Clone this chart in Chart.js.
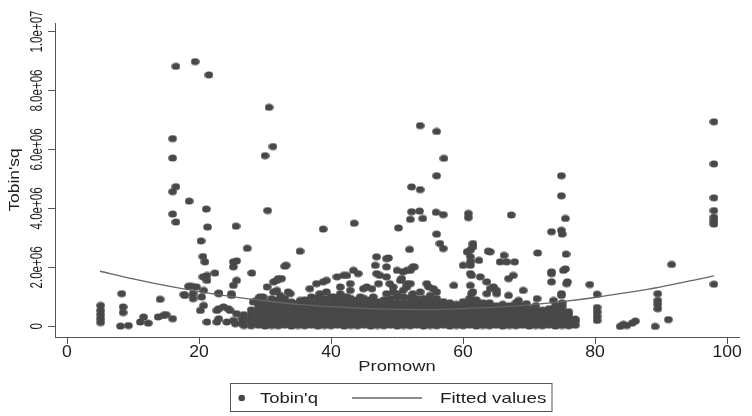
<!DOCTYPE html>
<html lang="en">
<head>
    <meta charset="UTF-8">
    <title>Tobin's q vs Promown</title>
    <script src="https://cdn.jsdelivr.net/npm/chart.js"></script>
    <style>
        body {
            margin: 0;
            background-color: #fff;
        }
        #scatterChart {
            display: block;
        }
    </style>
</head>
<body>
    <canvas id="scatterChart" width="752" height="416"></canvas>

    <script>
        // values of Tobin'q are in millions (1 = 1.0e+06)
        const xTicks = [0, 20, 40, 60, 80, 100];
        const yTicks = [0, 2, 4, 6, 8, 10];
        const yTickLabels = ['0', '2.0e+06', '4.0e+06', '6.0e+06', '8.0e+06', '1.0e+07'];

        // isolated high points
        const farPoints = [
            [16.5, 8.82], [19.4, 8.98], [21.5, 8.53], [30.6, 7.43], [16.0, 6.37], [31.2, 6.10],
            [16.0, 5.71], [30.0, 5.79], [16.5, 4.74], [16.0, 4.57], [18.5, 4.25], [21.1, 3.98],
            [30.4, 3.93], [16.0, 3.81], [16.5, 3.54], [21.3, 3.37], [25.6, 3.40], [20.3, 2.90],
            [27.3, 2.65], [35.3, 2.55], [43.5, 3.50], [38.8, 3.30],
            [53.5, 6.81], [56.0, 6.61], [57.1, 5.70], [56.0, 5.11], [52.2, 4.73], [53.5, 4.64],
            [52.2, 3.89], [53.4, 3.91], [52.0, 3.63], [53.9, 3.66], [55.9, 3.87], [57.0, 3.79],
            [60.8, 3.83], [60.8, 3.69], [67.3, 3.78], [50.2, 3.34], [56.0, 3.13], [56.5, 2.81],
            [57.0, 2.64], [51.9, 2.61], [61.5, 2.81], [61.1, 2.59], [61.5, 2.70], [60.6, 2.53],
            [63.8, 2.55], [64.1, 2.53], [66.2, 2.41], [71.3, 2.49],
            [73.4, 3.21], [74.9, 3.26], [75.0, 3.13], [74.9, 5.11], [74.9, 4.43], [75.5, 3.66], [75.6, 2.45],
            [98.0, 6.94], [98.0, 5.51], [98.0, 4.36], [98.0, 3.93], [98.0, 3.70], [98.0, 3.58], [98.0, 3.47]
        ];

        // points between about 1.0e+06 and 2.4e+06
        const midPoints = [
            [20.6, 2.37], [20.9, 2.19], [25.7, 2.22], [25.2, 2.02], [33.0, 2.04], [25.2, 2.19], [33.2, 2.07],
            [8.3, 1.11], [18.4, 1.36], [18.9, 1.36], [19.6, 1.34], [19.1, 1.11], [17.7, 1.08], [20.7, 1.22],
            [20.4, 1.00], [21.2, 1.73], [22.4, 1.81], [23.0, 1.11], [25.2, 1.39], [24.9, 1.11], [25.7, 1.56],
            [28.0, 1.81], [20.6, 1.68], [21.2, 1.56], [17.9, 1.05], [23.0, 1.13], [24.9, 1.05],
            [30.3, 1.34], [31.3, 1.51], [32.0, 1.62], [32.3, 1.05], [33.8, 1.11], [32.5, 1.62], [31.8, 1.56],
            [31.8, 1.22], [33.5, 1.17], [31.3, 1.17], [36.8, 1.28], [37.8, 1.45], [38.8, 1.51], [39.3, 1.56],
            [40.9, 1.68], [41.9, 1.73], [42.4, 1.73], [43.4, 1.90], [44.1, 1.79], [38.3, 1.11], [41.4, 1.34],
            [42.9, 1.45], [39.3, 1.17], [41.4, 1.11], [42.9, 1.22], [44.9, 1.28], [46.2, 1.28], [45.4, 1.34],
            [40.4, 1.00], [42.4, 1.00], [44.4, 1.00], [46.4, 1.00], [29.7, 1.00],
            [46.9, 2.36], [48.4, 2.30], [48.7, 2.32], [46.7, 2.07], [48.4, 2.02], [47.4, 1.73], [48.4, 1.68],
            [50.0, 1.90], [50.7, 1.62], [51.5, 1.90], [49.4, 1.34], [50.0, 1.11], [51.5, 1.34], [48.4, 1.11],
            [46.9, 1.79], [47.2, 1.45], [48.9, 1.45], [49.4, 1.17], [50.9, 1.22], [52.4, 2.02], [50.9, 1.85],
            [52.6, 2.02], [51.5, 1.45], [54.5, 1.45], [55.5, 1.28], [53.5, 1.17], [52.0, 1.45], [52.4, 1.11],
            [54.8, 1.34], [56.0, 1.17], [55.0, 1.05], [52.0, 1.90], [50.5, 1.56], [58.6, 1.39],
            [60.0, 2.07], [61.1, 2.19], [62.4, 2.24], [61.1, 2.36], [61.1, 2.07], [61.3, 1.73], [62.6, 1.68],
            [63.6, 1.51], [64.6, 1.34], [64.1, 1.28], [61.1, 1.39], [61.3, 1.11], [61.5, 1.17], [63.6, 1.11],
            [65.1, 1.11], [65.1, 1.22], [61.1, 1.79], [65.6, 2.19], [67.8, 2.19], [66.6, 2.19], [66.9, 1.62],
            [67.6, 1.73], [66.9, 1.05], [69.1, 1.22], [71.2, 0.94],
            [73.4, 1.85], [73.4, 1.51], [75.2, 1.90], [75.5, 1.95], [75.7, 1.45], [74.9, 1.11], [75.8, 1.51],
            [74.9, 1.05], [73.4, 1.79],
            [79.2, 1.42], [80.3, 1.09], [89.5, 1.11], [91.6, 2.10], [98.0, 1.43]
        ];

        // low points outside the dense band
        const lowPoints = [
            [5.1, 0.71], [5.1, 0.54], [5.1, 0.40], [5.1, 0.26], [5.1, 0.13], [8.5, 0.66], [8.5, 0.47],
            [8.1, 0.01], [9.3, 0.03], [11.1, 0.15], [11.6, 0.32], [12.3, 0.11], [13.8, 0.32], [15.0, 0.40],
            [16.0, 0.26], [14.6, 0.37], [14.1, 0.92], [20.7, 0.71], [20.2, 0.54], [21.2, 0.15], [22.7, 0.54],
            [22.7, 0.15], [23.7, 0.66], [24.7, 0.54], [25.7, 0.43], [26.5, 0.26], [24.2, 0.15], [25.5, 0.09],
            [26.6, 0.09], [23.0, 0.60], [23.0, 0.26], [24.4, 0.60], [25.2, 0.20], [28.2, 0.83], [29.2, 1.00],
            [35.3, 0.88], [19.1, 0.94], [28.7, 0.88], [68.4, 0.88], [69.6, 0.77], [73.7, 0.88],
            [80.3, 0.64], [80.3, 0.49], [80.3, 0.34], [80.3, 0.20], [89.5, 0.88], [89.5, 0.75], [89.5, 0.60],
            [89.1, 0.00], [91.1, 0.23], [83.8, 0.00], [84.3, 0.07], [84.8, 0.03], [85.6, 0.11], [86.1, 0.18]
        ];

        // dense band near zero: [promown, [tobin'q values]]
        const bandColumns = [
            [26.8, [0.03, 0.16, 0.29, 0.40]],
            [27.9, [0.02, 0.15, 0.28, 0.41, 0.56]],
            [29.0, [0.04, 0.17, 0.30, 0.43, 0.56, 0.69, 0.80]],
            [30.0, [0.01, 0.14, 0.27, 0.40, 0.53, 0.66, 0.82]],
            [31.0, [0.03, 0.16, 0.29, 0.42, 0.55, 0.68, 0.81, 0.94]],
            [32.0, [0.02, 0.15, 0.28, 0.41, 0.54, 0.67, 0.79, 0.90]],
            [33.0, [0.04, 0.17, 0.30, 0.43, 0.56, 0.69, 0.82, 0.95]],
            [34.0, [0.01, 0.14, 0.27, 0.40, 0.53, 0.66, 0.83]],
            [35.0, [0.03, 0.16, 0.29, 0.42, 0.55, 0.68, 0.79]],
            [36.0, [0.02, 0.15, 0.28, 0.41, 0.54, 0.67, 0.80, 0.90]],
            [37.0, [0.04, 0.17, 0.30, 0.43, 0.56, 0.69, 0.82, 1.00]],
            [38.0, [0.01, 0.14, 0.27, 0.40, 0.53, 0.66, 0.80, 0.98]],
            [39.0, [0.03, 0.16, 0.29, 0.42, 0.55, 0.68, 0.81, 0.95]],
            [40.0, [0.02, 0.15, 0.28, 0.41, 0.54, 0.67, 0.80, 1.00]],
            [41.0, [0.04, 0.17, 0.30, 0.43, 0.56, 0.69, 0.82, 0.95]],
            [42.0, [0.01, 0.14, 0.27, 0.40, 0.53, 0.66, 0.80, 1.00]],
            [43.0, [0.03, 0.16, 0.29, 0.42, 0.55, 0.68, 0.81, 0.95]],
            [44.0, [0.02, 0.15, 0.28, 0.41, 0.54, 0.67, 0.78, 0.90]],
            [45.0, [0.04, 0.17, 0.30, 0.43, 0.56, 0.69, 0.82, 0.95]],
            [46.0, [0.01, 0.14, 0.27, 0.40, 0.53, 0.66, 0.79, 0.90]],
            [47.0, [0.03, 0.16, 0.29, 0.42, 0.55, 0.68, 0.84]],
            [48.0, [0.02, 0.15, 0.28, 0.41, 0.54, 0.67, 0.80, 0.90]],
            [49.0, [0.04, 0.17, 0.30, 0.43, 0.56, 0.69, 0.82, 0.95]],
            [50.0, [0.01, 0.14, 0.27, 0.40, 0.53, 0.66, 0.80, 1.00]],
            [51.0, [0.03, 0.16, 0.29, 0.42, 0.55, 0.68, 0.82, 1.00]],
            [52.0, [0.02, 0.15, 0.28, 0.41, 0.54, 0.67, 0.80, 0.98]],
            [53.0, [0.04, 0.17, 0.30, 0.43, 0.56, 0.69, 0.82, 0.95]],
            [54.0, [0.01, 0.14, 0.27, 0.40, 0.53, 0.66, 0.80, 0.95]],
            [55.0, [0.03, 0.16, 0.29, 0.42, 0.55, 0.68, 0.80, 0.90]],
            [56.0, [0.02, 0.15, 0.28, 0.41, 0.54, 0.67, 0.80, 0.95]],
            [57.0, [0.04, 0.17, 0.30, 0.43, 0.56, 0.69, 0.84]],
            [58.0, [0.01, 0.14, 0.27, 0.40, 0.53, 0.66, 0.80]],
            [59.0, [0.03, 0.16, 0.29, 0.42, 0.55, 0.68, 0.75]],
            [60.0, [0.02, 0.15, 0.28, 0.41, 0.54, 0.67, 0.84]],
            [61.0, [0.04, 0.17, 0.30, 0.43, 0.56, 0.69, 0.82, 0.95]],
            [62.0, [0.01, 0.14, 0.27, 0.40, 0.53, 0.66, 0.78, 0.90]],
            [63.0, [0.03, 0.16, 0.29, 0.42, 0.55, 0.68, 0.80]],
            [64.0, [0.02, 0.15, 0.28, 0.41, 0.54, 0.67, 0.80]],
            [65.0, [0.04, 0.17, 0.30, 0.43, 0.56, 0.70]],
            [66.0, [0.01, 0.14, 0.27, 0.40, 0.53, 0.66, 0.75]],
            [67.0, [0.03, 0.16, 0.29, 0.42, 0.55, 0.70]],
            [68.0, [0.02, 0.15, 0.28, 0.41, 0.54, 0.67, 0.80]],
            [69.0, [0.04, 0.17, 0.30, 0.43, 0.56, 0.70]],
            [70.0, [0.01, 0.14, 0.27, 0.40, 0.53, 0.60]],
            [71.0, [0.03, 0.16, 0.29, 0.42, 0.55, 0.70]],
            [72.0, [0.02, 0.15, 0.28, 0.41, 0.55]],
            [73.0, [0.04, 0.17, 0.30, 0.43, 0.60]],
            [74.0, [0.01, 0.14, 0.27, 0.40, 0.53, 0.66, 0.70]],
            [75.0, [0.03, 0.16, 0.29, 0.42, 0.55, 0.68, 0.80]],
            [76.0, [0.02, 0.15, 0.28, 0.41, 0.50]],
            [77.0, [0.04, 0.17, 0.25]]
        ];

        // fitted values
        const fitX = [5, 10, 15, 20, 25, 30, 35, 40, 45, 50, 55, 60, 65, 70, 75, 80, 85, 90, 95, 98];
        const fitY = [1.87, 1.61, 1.38, 1.18, 1.01, 0.87, 0.75, 0.67, 0.61, 0.58, 0.57, 0.60, 0.65, 0.73, 0.84, 0.98, 1.15, 1.34, 1.57, 1.71];

        const markerColor = '#484848';
        const lineColor = '#666666';
        const textColor = '#1e1e1e';
        const axisColor = '#555';
        const fontFamily = '"Liberation Sans", Arial, sans-serif';

        const scatterData = [];
        farPoints.concat(midPoints, lowPoints).forEach(p => scatterData.push({ x: p[0], y: p[1] }));
        bandColumns.forEach(col => col[1].forEach(v => scatterData.push({ x: col[0], y: v })));
        const fitData = fitX.map((x, i) => ({ x: x, y: fitY[i] }));

        // slightly wide dot, like the original marker
        const dot = document.createElement('canvas');
        dot.width = 9;
        dot.height = 8;
        const dctx = dot.getContext('2d');
        dctx.fillStyle = markerColor;
        dctx.beginPath();
        dctx.ellipse(4.5, 4, 4.3, 3.6, 0, 0, Math.PI * 2);
        dctx.fill();

        function wideText(ctx, text, x, y, size, sx, align) {
            ctx.save();
            ctx.translate(x, y);
            ctx.scale(sx, 1);
            ctx.font = size + 'px ' + fontFamily;
            ctx.textAlign = align;
            ctx.textBaseline = 'alphabetic';
            ctx.fillText(text, 0, 0);
            ctx.restore();
        }

        function upText(ctx, text, x, y, size, sLen) {
            ctx.save();
            ctx.translate(x, y);
            ctx.rotate(-Math.PI / 2);
            ctx.scale(sLen, 1);
            ctx.font = size + 'px ' + fontFamily;
            ctx.textAlign = 'center';
            ctx.textBaseline = 'alphabetic';
            ctx.fillText(text, 0, 0);
            ctx.restore();
        }

        const textPlugin = {
            id: 'stataText',
            afterDraw(chart) {
                const ctx = chart.ctx;
                const xs = chart.scales.x;
                const ys = chart.scales.y;
                const area = chart.chartArea;
                ctx.fillStyle = textColor;

                yTicks.forEach((v, i) => {
                    upText(ctx, yTickLabels[i], 41.8, ys.getPixelForValue(v), 17, 0.68);
                });
                xTicks.forEach(v => {
                    wideText(ctx, String(v), xs.getPixelForValue(v), 357, 16, 1.1, 'center');
                });
                wideText(ctx, 'Promown', (area.left + area.right) / 2, 371, 15, 1.22, 'center');
                upText(ctx, "Tobin'sq", 18.5, (area.top + area.bottom) / 2, 14, 1.24);

                // legend
                const ds = chart.data.datasets;
                ctx.save();
                ctx.strokeStyle = axisColor;
                ctx.lineWidth = 1;
                ctx.strokeRect(230.5, 383.5, 321.5, 28);
                ctx.fillStyle = markerColor;
                ctx.beginPath();
                ctx.arc(241.7, 398, 3.3, 0, Math.PI * 2);
                ctx.fill();
                ctx.strokeStyle = lineColor;
                ctx.lineWidth = 1.3;
                ctx.beginPath();
                ctx.moveTo(352, 398);
                ctx.lineTo(422, 398);
                ctx.stroke();
                ctx.restore();
                ctx.fillStyle = textColor;
                wideText(ctx, ds[1].label, 260, 403.3, 15, 1.23, 'left');
                wideText(ctx, ds[0].label, 440, 403.3, 15, 1.25, 'left');
            }
        };

        new Chart(document.getElementById('scatterChart'), {
            type: 'scatter',
            data: {
                datasets: [{
                    type: 'line',
                    label: 'Fitted values',
                    data: fitData,
                    borderColor: lineColor,
                    borderWidth: 1.3,
                    pointRadius: 0,
                    fill: false,
                    cubicInterpolationMode: 'monotone',
                    order: 0
                }, {
                    label: "Tobin'q",
                    data: scatterData,
                    pointStyle: dot,
                    pointRadius: 4,
                    backgroundColor: markerColor,
                    borderWidth: 0,
                    order: 1
                }]
            },
            options: {
                responsive: false,
                animation: false,
                layout: {
                    padding: { left: 48, right: 13, top: 23, bottom: 72 }
                },
                scales: {
                    x: {
                        type: 'linear',
                        min: -1.82,
                        max: 101.8,
                        afterBuildTicks: s => { s.ticks = xTicks.map(v => ({ value: v })); },
                        afterFit: s => { s.height = 7; },
                        ticks: { display: false },
                        grid: { drawOnChartArea: false, drawTicks: true, tickLength: 7, color: axisColor, lineWidth: 1 },
                        border: { display: true, color: axisColor, width: 1 }
                    },
                    y: {
                        type: 'linear',
                        min: -0.36,
                        max: 10.29,
                        afterBuildTicks: s => { s.ticks = yTicks.map(v => ({ value: v })); },
                        afterFit: s => { s.width = 7; },
                        ticks: { display: false },
                        grid: { drawOnChartArea: false, drawTicks: true, tickLength: 7, color: axisColor, lineWidth: 1 },
                        border: { display: true, color: axisColor, width: 1 }
                    }
                },
                plugins: {
                    legend: { display: false },
                    tooltip: { enabled: false }
                }
            },
            plugins: [textPlugin]
        });
    </script>
</body>
</html>
